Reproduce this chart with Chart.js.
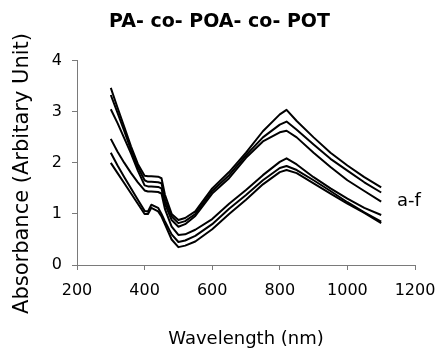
<!DOCTYPE html>
<html>
<head>
<meta charset="utf-8">
<script src="https://cdn.jsdelivr.net/npm/chart.js@4"></script>
<style>
    html, body { margin: 0; padding: 0; background: #fff; }
    #wrap { width: 439px; height: 348px; }
</style>
</head>
<body>
<div id="wrap"><canvas id="spectraChart" width="439" height="348"></canvas></div>
<script>
// Wavelength samples (nm)
const wavelength = [300, 320, 340, 360, 380, 400, 410, 420, 440, 450, 460, 480, 500, 520, 550,
    600, 650, 700, 750, 800, 820, 850, 900, 950, 1000, 1050, 1100];

// Absorbance for samples a..f
const seriesA = [3.47, 3.08, 2.70, 2.32, 1.98, 1.75, 1.74, 1.74, 1.73, 1.70, 1.38, 1.00, 0.88, 0.92, 1.05,
    1.50, 1.82, 2.20, 2.62, 2.95, 3.04, 2.82, 2.50, 2.20, 1.95, 1.72, 1.52];
const seriesB = [3.33, 2.98, 2.62, 2.25, 1.92, 1.66, 1.63, 1.63, 1.62, 1.60, 1.28, 0.95, 0.82, 0.86, 1.00,
    1.45, 1.76, 2.15, 2.50, 2.75, 2.81, 2.65, 2.36, 2.08, 1.85, 1.62, 1.42];
const seriesC = [3.05, 2.78, 2.48, 2.18, 1.85, 1.56, 1.54, 1.54, 1.53, 1.50, 1.20, 0.88, 0.75, 0.80, 0.96,
    1.40, 1.70, 2.10, 2.42, 2.60, 2.63, 2.50, 2.20, 1.92, 1.66, 1.45, 1.24];
const seriesD = [2.47, 2.22, 2.00, 1.80, 1.62, 1.46, 1.44, 1.44, 1.43, 1.40, 1.10, 0.75, 0.59, 0.60, 0.69,
    0.90, 1.20, 1.47, 1.76, 2.02, 2.09, 1.97, 1.72, 1.50, 1.30, 1.12, 0.98];
const seriesE = [2.20, 1.95, 1.72, 1.50, 1.28, 1.06, 1.05, 1.18, 1.12, 1.00, 0.86, 0.60, 0.45, 0.48, 0.57,
    0.80, 1.10, 1.37, 1.66, 1.90, 1.94, 1.86, 1.66, 1.45, 1.23, 1.03, 0.85];
const seriesF = [2.00, 1.80, 1.60, 1.40, 1.20, 1.00, 1.00, 1.12, 1.05, 0.95, 0.80, 0.50, 0.35, 0.38, 0.46,
    0.70, 1.00, 1.28, 1.58, 1.82, 1.86, 1.80, 1.60, 1.40, 1.20, 1.02, 0.82];

const allSeries = [seriesA, seriesB, seriesC, seriesD, seriesE, seriesF];

// Axis ticks
const xTicks = [200, 400, 600, 800, 1000, 1200];
const yTicks = [0, 1, 2, 3, 4];

// Curve label and where it sits (data units)
const curveLabel = 'a-f';
const curveLabelAt = { x: 1147, y: 1.16 };

const FONT = "'DejaVu Sans', sans-serif";
const AXIS_GREY = '#7a7a7a';

// Draws the rotated y-axis title and the "a-f" tag
const textPlugin = {
    id: 'extraText',
    afterDraw(chart) {
        const ctx = chart.ctx;
        const xs = chart.scales.x;
        const ys = chart.scales.y;
        ctx.save();
        ctx.fillStyle = '#000';

        ctx.font = '18px ' + FONT;
        ctx.textAlign = 'left';
        ctx.textBaseline = 'alphabetic';
        ctx.fillText(curveLabel, xs.getPixelForValue(curveLabelAt.x), ys.getPixelForValue(curveLabelAt.y));

        ctx.translate(23, 173.5);
        ctx.rotate(-Math.PI / 2);
        ctx.font = '21px ' + FONT;
        ctx.textAlign = 'center';
        ctx.textBaseline = 'middle';
        ctx.fillText('Absorbance (Arbitary Unit)', 0, 0);
        ctx.restore();
    }
};

const datasets = allSeries.map(function(values, i) {
    return {
        label: String.fromCharCode(97 + i),
        data: wavelength.map((w, j) => ({ x: w, y: values[j] })),
        borderColor: '#000',
        borderWidth: 2,
        pointRadius: 0,
        fill: false,
        tension: 0,
        borderJoinStyle: 'round'
    };
});

new Chart(document.getElementById('spectraChart').getContext('2d'), {
    type: 'line',
    data: { datasets: datasets },
    options: {
        responsive: false,
        animation: false,
        layout: { padding: 0 },
        plugins: {
            legend: { display: false },
            tooltip: { enabled: false },
            title: {
                display: true,
                text: 'PA- co- POA- co- POT',
                color: '#000',
                font: { family: FONT, size: 19, weight: 'bold' },
                padding: { top: 11, bottom: 27 }
            }
        },
        scales: {
            x: {
                type: 'linear',
                min: 200,
                max: 1200,
                afterFit: function(scale) {
                    scale.height = 83;
                    scale.paddingRight = 24;
                },
                afterBuildTicks: function(scale) {
                    scale.ticks = xTicks.map(v => ({ value: v }));
                },
                border: { color: AXIS_GREY, width: 1 },
                grid: { drawOnChartArea: false, drawTicks: true, tickLength: 5, color: AXIS_GREY },
                ticks: {
                    color: '#000',
                    padding: 11,
                    maxRotation: 0,
                    font: { family: FONT, size: 16 },
                    callback: value => String(value)
                },
                title: {
                    display: true,
                    text: 'Wavelength (nm)',
                    color: '#000',
                    font: { family: FONT, size: 18, lineHeight: 1 },
                    padding: { top: 0, bottom: 0 }
                }
            },
            y: {
                type: 'linear',
                min: 0,
                max: 4,
                afterFit: function(scale) { scale.width = 77; },
                afterBuildTicks: function(scale) {
                    scale.ticks = yTicks.map(v => ({ value: v }));
                },
                border: { color: AXIS_GREY, width: 1 },
                grid: { drawOnChartArea: false, drawTicks: true, tickLength: 5, color: AXIS_GREY },
                ticks: {
                    color: '#000',
                    padding: 10,
                    font: { family: FONT, size: 16 },
                    callback: value => String(value)
                }
            }
        }
    },
    plugins: [textPlugin]
});
</script>
</body>
</html>
